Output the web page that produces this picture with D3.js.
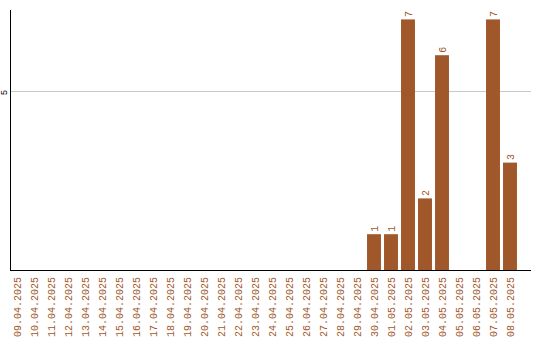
<!DOCTYPE html>
<html>
<head>
<meta charset="utf-8">
<script src="https://cdn.jsdelivr.net/npm/d3@7"></script>
<style>
  body { margin: 0; background: #fff; }
  text { font-family: "Liberation Mono", monospace; }
</style>
</head>
<body>
<div id="chart"></div>
<script>
// ==================== données ====================//
const dates = [
  "09.04.2025", "10.04.2025", "11.04.2025", "12.04.2025", "13.04.2025",
  "14.04.2025", "15.04.2025", "16.04.2025", "17.04.2025", "18.04.2025",
  "19.04.2025", "20.04.2025", "21.04.2025", "22.04.2025", "23.04.2025",
  "24.04.2025", "25.04.2025", "26.04.2025", "27.04.2025", "28.04.2025",
  "29.04.2025", "30.04.2025", "01.05.2025", "02.05.2025", "03.05.2025",
  "04.05.2025", "05.05.2025", "06.05.2025", "07.05.2025", "08.05.2025"
];
const counts = [
  0, 0, 0, 0, 0, 0, 0, 0, 0, 0,
  0, 0, 0, 0, 0, 0, 0, 0, 0, 0,
  0, 1, 1, 7, 2, 6, 0, 0, 7, 3
];
const yTicks = [5];

const data = dates.map((d, i) => ({ date: d, value: counts[i] }));

// ==================== svg ====================//
const width = 540;
const height = 340;
const color = "#a0572a";

const svg = d3.select("#chart")
  .append("svg")
  .attr("width", width)
  .attr("height", height);

const x = d3.scaleBand()
  .domain(dates)
  .range([8.5, 518.5])
  .paddingInner(0.18)
  .paddingOuter(0.09);

const y = d3.scaleLinear()
  .domain([0, 7.263])
  .range([270, 10]);

// grille horizontale
svg.selectAll(".grid")
  .data(yTicks)
  .enter()
  .append("line")
  .attr("x1", 10.5)
  .attr("x2", 531)
  .attr("y1", d => Math.round(y(d)) + 0.5)
  .attr("y2", d => Math.round(y(d)) + 0.5)
  .attr("stroke", "#c8c8c8")
  .attr("stroke-width", 1);

// libellés de l'axe y
svg.selectAll(".ytick")
  .data(yTicks)
  .enter()
  .append("text")
  .attr("transform", d => `translate(7,${y(d) + 1.5}) rotate(-90)`)
  .attr("text-anchor", "middle")
  .attr("font-size", 9)
  .attr("fill", "#000")
  .text(d => d);

// barres
svg.selectAll(".bar")
  .data(data.filter(d => d.value > 0))
  .enter()
  .append("rect")
  .attr("x", d => x(d.date))
  .attr("y", d => y(d.value))
  .attr("width", x.bandwidth())
  .attr("height", d => y(0) - y(d.value))
  .attr("fill", color);

// valeurs au-dessus des barres
svg.selectAll(".val")
  .data(data.filter(d => d.value > 0))
  .enter()
  .append("text")
  .attr("transform", d => `translate(${x(d.date) + x.bandwidth() / 2 + 3.5},${y(d.value) - 2.5}) rotate(-90)`)
  .attr("text-anchor", "start")
  .attr("font-size", 10)
  .attr("fill", color)
  .text(d => d.value);

// axes
svg.append("line")
  .attr("x1", 10.5).attr("x2", 10.5)
  .attr("y1", 10).attr("y2", 270.5)
  .attr("stroke", "#000");

svg.append("line")
  .attr("x1", 10).attr("x2", 531)
  .attr("y1", 270.5).attr("y2", 270.5)
  .attr("stroke", "#000");

// dates en bas
svg.selectAll(".xlab")
  .data(dates)
  .enter()
  .append("text")
  .attr("transform", d => `translate(${x(d) + x.bandwidth() / 2 + 3.5},277) rotate(-90)`)
  .attr("text-anchor", "end")
  .attr("font-size", 10)
  .attr("fill", color)
  .text(d => d);
</script>
</body>
</html>
